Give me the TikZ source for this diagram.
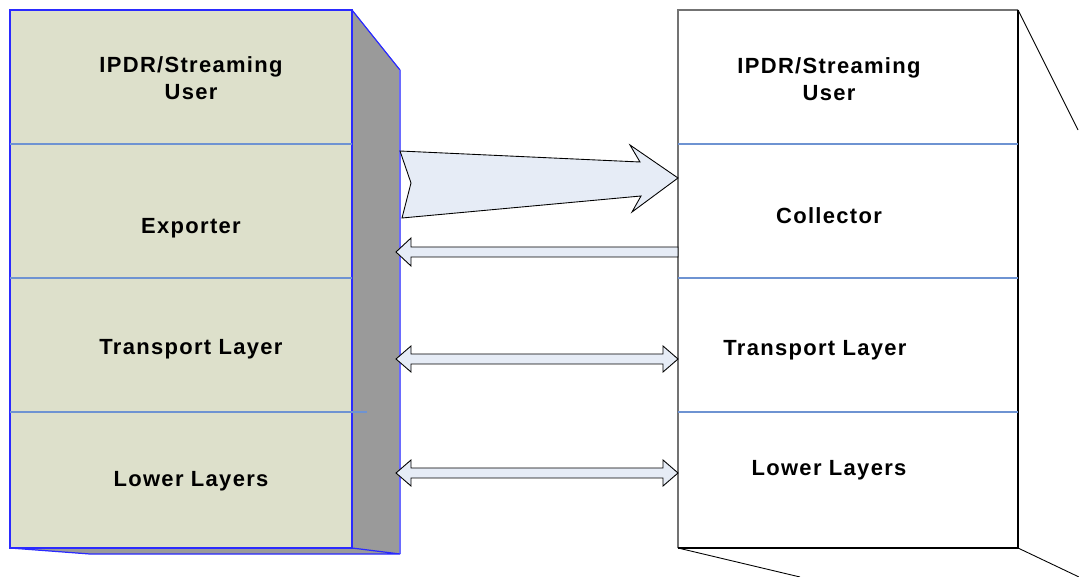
\documentclass[tikz,border=0pt]{standalone}
\usepackage{fontspec}
\setmainfont{Liberation Sans}[LetterSpace=6]
\usetikzlibrary{positioning}

\definecolor{layerFill}{HTML}{DDE0CB}
\definecolor{shadowGray}{HTML}{9A9A9A}
\definecolor{edgeBlue}{HTML}{2A2AFF}
\definecolor{lightEdge}{HTML}{6A6AFF}
\definecolor{sepBlue}{HTML}{6E93D2}
\definecolor{arrowFill}{HTML}{E6ECF6}

\tikzset{
  layer/.style={font=\fontsize{12.5}{15}\selectfont\bfseries, align=center},
  blockArrow/.style={draw=black, fill=arrowFill, line width=0.5pt, line join=miter},
  sep/.style={draw=sepBlue, line width=0.6pt}
}

\begin{document}
\begin{tikzpicture}[x=0.02cm,y=-0.02cm]
  \useasboundingbox (0,0) rectangle (1079,577);

  % exporter side
  \fill[shadowGray] (352,10) -- (400,70) -- (400,554) -- (90,554) -- (10,548) -- cycle;
  \fill[layerFill] (10,10) rectangle (352,548);
  \draw[edgeBlue, line width=0.7pt] (10,10) rectangle (352,548);
  \draw[edgeBlue, line width=0.7pt] (352,10) -- (400,70);
  \draw[lightEdge, line width=0.8pt] (400,70) -- (400,554);
  \draw[edgeBlue, line width=0.7pt] (10,548) -- (90,554) -- (400,554) -- (352,548);
  \draw[sep] (10,144) -- (352,144);
  \draw[sep] (10,278) -- (352,278);
  \draw[sep] (10,412) -- (367,412);

  % collector side
  \draw[black!55, line width=0.7pt] (1018,10) -- (678,10) -- (678,548);
  \draw[black, line width=0.7pt] (678,548) -- (1018,548) -- (1018,10);
  \draw[black, line width=0.5pt] (1018,10) -- (1078,130);
  \draw[black, line width=0.5pt] (678,548) -- (800,577);
  \draw[black, line width=0.5pt] (1018,548) -- (1079,577);
  \draw[sep] (678,144) -- (1018,144);
  \draw[sep] (678,278) -- (1018,278);
  \draw[sep] (678,412) -- (1018,412);

  % layer labels
  \node (expUser) [layer] at (191,78) {IPDR/Streaming\\User};
  \node (exporter) [layer] at (191,228) {Exporter};
  \node (expTransport) [layer] at (191,349) {Transport Layer};
  \node (expLower) [layer] at (191,481) {Lower Layers};
  \node (colUser) [layer] at (829,79) {IPDR/Streaming\\User};
  \node (collector) [layer] at (829,216) {Collector};
  \node (colTransport) [layer] at (815,350) {Transport Layer};
  \node (colLower) [layer] at (829,470) {Lower Layers};

  % block arrows
  \draw[blockArrow] (400,151) -- (640,162) -- (630,145) -- (678,178)
        -- (632,212) -- (641,196) -- (402,218) -- (411,183) -- cycle;
  \draw[blockArrow] (678,247) -- (411,247) -- (411,238) -- (396,252)
        -- (411,266) -- (411,257) -- (678,257) -- cycle;
  \foreach \y in {359,473}
    \draw[blockArrow] (411,\y-5) -- (663,\y-5) -- (663,\y-13) -- (678,\y)
          -- (663,\y+13) -- (663,\y+5) -- (411,\y+5) -- (411,\y+13)
          -- (396,\y) -- (411,\y-13) -- cycle;
\end{tikzpicture}
\end{document}
